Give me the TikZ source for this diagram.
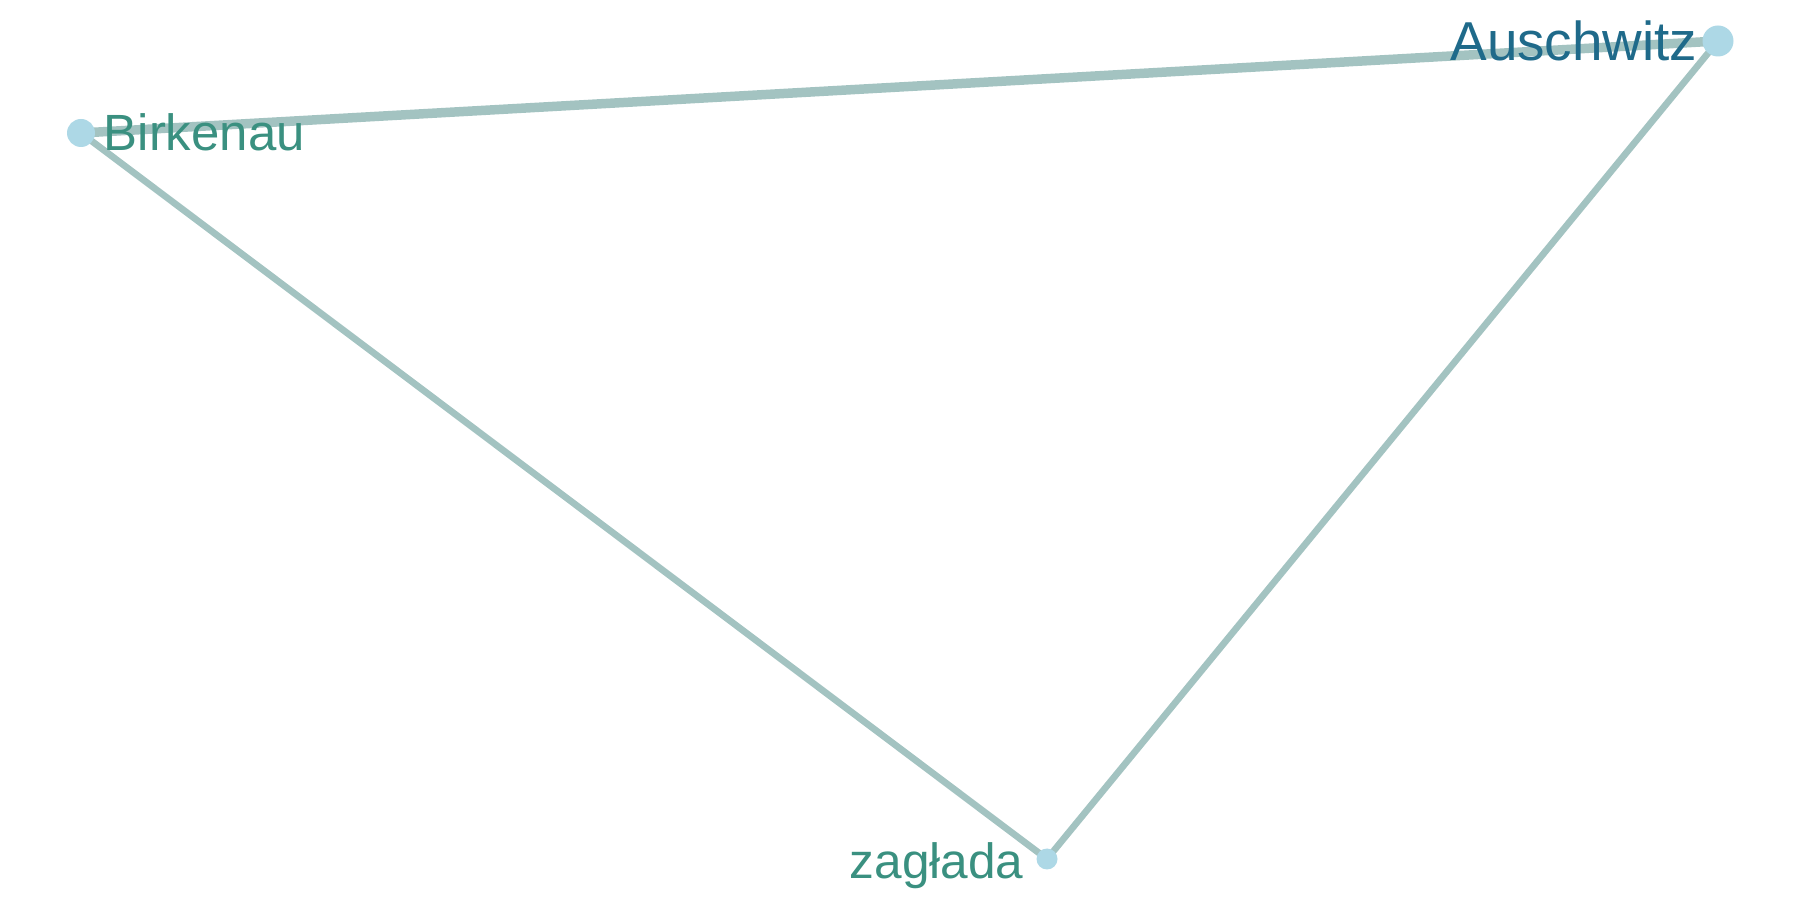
\documentclass[tikz,border=0pt]{standalone}
\usepackage{fontspec}
\setmainfont{Liberation Sans}
\usepackage{xcolor}
\usetikzlibrary{positioning,backgrounds}

\definecolor{edgecol}{HTML}{A3C3C1}
\definecolor{dotcol}{HTML}{ADD8E6}
\definecolor{darklab}{HTML}{1F6A8A}
\definecolor{lightlab}{HTML}{3A9080}

\tikzset{
  vertex/.style={circle,fill=dotcol,inner sep=0pt,minimum size=#1},
  word/.style={inner sep=0pt,text=lightlab},
  link/.style={edgecol,line width=#1}
}

\begin{document}
\begin{tikzpicture}[line width=0.4pt]
  \useasboundingbox (0,0) rectangle (18,9);
  % vertices
  \node[vertex=3.1mm] (ausch) at (17.18,8.59) {};
  \node[vertex=2.8mm] (birk) at (0.81,7.67) {};
  \node[vertex=2.1mm] (zagl) at (10.47,0.41) {};
  % edges
  \begin{scope}[on background layer]
    \draw[link=2.7pt] (ausch.center) -- (birk.center);
    \draw[link=1.9pt] (birk.center) -- (zagl.center);
    \draw[link=1.9pt] (zagl.center) -- (ausch.center);
  \end{scope}
  % labels
  \node[word,text=darklab,anchor=base east,font=\fontsize{15.6}{18}\selectfont]
    (auschlab) at (16.98,8.39) {Auschwitz};
  \node[word,anchor=base west,font=\fontsize{14.5}{17}\selectfont]
    (birklab) at (1.03,7.49) {Birkenau};
  \node[word,anchor=base east,font=\fontsize{14.1}{17}\selectfont]
    (zagllab) at (10.24,0.21) {zagłada};
\end{tikzpicture}
\end{document}
